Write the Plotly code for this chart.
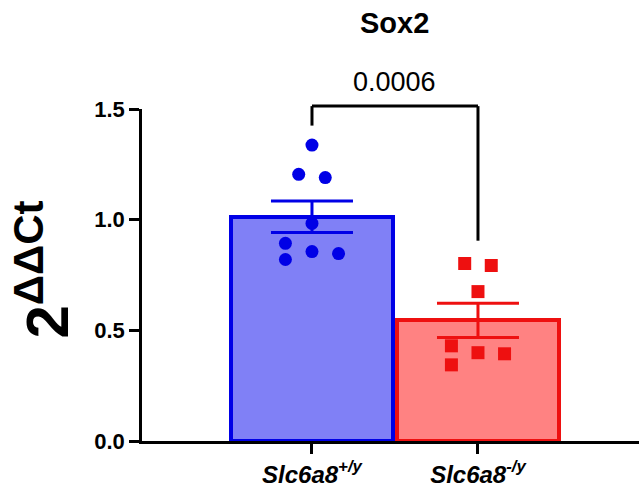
import plotly.graph_objects as go

# ---- data ----
categories = ["Slc6a8<sup>+/y</sup>", "Slc6a8<sup>-/y</sup>"]
bar_means = [1.013, 0.545]
bar_sem = [0.071, 0.077]
wt_points = [1.337, 1.205, 1.19, 0.983, 0.893, 0.82, 0.856, 0.847]
ko_points = [0.802, 0.793, 0.675, 0.43, 0.399, 0.394, 0.344]
p_value_text = "0.0006"
title_text = "Sox2"
y_ticks = [0.0, 0.5, 1.0, 1.5]

# jitter offsets (layout only)
wt_jitter = [0, -0.08, 0.08, 0, -0.16, -0.16, 0, 0.16]
ko_jitter = [-0.08, 0.08, 0, -0.16, 0, 0.16, -0.16]

W, H = 639, 490
XMIN, XMAX = -1.024, 1.97
YMIN, YMAX = 0.0, 1.5
FONT = "Liberation Sans, Arial"

blue_fill = "#8080f6"
blue_line = "#0000e6"
red_fill = "#ff8282"
red_line = "#ee1010"

fig = go.Figure()
fig.add_trace(go.Bar(
    x=[0, 1], y=bar_means, width=0.975,
    marker=dict(color=[blue_fill, red_fill], line=dict(color=[blue_line, red_line], width=4)),
    showlegend=False,
))
for i, col in enumerate([blue_line, red_line]):
    fig.add_trace(go.Scatter(
        x=[i], y=[bar_means[i]], mode="markers",
        marker=dict(size=1, color=col, opacity=0),
        error_y=dict(type="data", array=[bar_sem[i]], color=col, thickness=3, width=41, visible=True),
        showlegend=False, hoverinfo="skip",
    ))
fig.add_trace(go.Scatter(
    x=[0 + j for j in wt_jitter], y=wt_points, mode="markers",
    marker=dict(symbol="circle", size=13, color=blue_line), showlegend=False, cliponaxis=False,
))
fig.add_trace(go.Scatter(
    x=[1 + j for j in ko_jitter], y=ko_points, mode="markers",
    marker=dict(symbol="square", size=13, color=red_line), showlegend=False, cliponaxis=False,
))

def px(xd):
    return (xd - XMIN) / (XMAX - XMIN)

def py(yd):
    return (yd - YMIN) / (YMAX - YMIN)

# significance bracket
br_top, br_left, br_right = 1.513, 1.425, 0.905
for x0, y0, x1, y1 in [(0, br_left, 0, br_top), (0, br_top, 1, br_top), (1, br_top, 1, br_right)]:
    fig.add_shape(type="line", xref="paper", yref="paper",
                  x0=px(x0), y0=py(y0), x1=px(x1), y1=py(y1),
                  line=dict(color="black", width=3))

fig.add_annotation(text=p_value_text, xref="paper", yref="paper", x=px(0.5), y=1.081,
                   showarrow=False, font=dict(family=FONT, size=27, color="black"),
                   xanchor="center", yanchor="middle")
fig.add_annotation(text="<b>" + title_text + "</b>", xref="paper", yref="paper", x=px(0.5), y=1.259,
                   showarrow=False, font=dict(family=FONT, size=29, color="black"),
                   xanchor="center", yanchor="middle")
fig.add_annotation(text="<b>2<sup>ΔΔCt</sup></b>", xref="paper", yref="paper", x=-0.2, y=0.515,
                   textangle=-90, showarrow=False,
                   font=dict(family=FONT, size=60, color="black"),
                   xanchor="center", yanchor="middle")

fig.update_layout(
    width=W, height=H,
    margin=dict(l=142, r=0, t=109, b=49),
    plot_bgcolor="white", paper_bgcolor="white",
    font=dict(family=FONT, color="black"),
    bargap=0,
)
fig.update_xaxes(
    range=[XMIN, XMAX], tickvals=[0, 1], ticktext=categories,
    showline=True, linecolor="black", linewidth=2.5,
    ticks="outside", ticklen=10, tickwidth=2.5, tickcolor="black",
    tickfont=dict(size=24, weight="bold", style="italic", family=FONT),
    showgrid=False, zeroline=False,
)
fig.update_yaxes(
    range=[YMIN, YMAX], tickvals=y_ticks, tickformat=".1f",
    showline=True, linecolor="black", linewidth=2.5,
    ticks="outside", ticklen=10, tickwidth=2.5, tickcolor="black",
    tickfont=dict(size=22, weight="bold", family=FONT),
    showgrid=False, zeroline=False,
)

fig.write_html("out.html", config={"displayModeBar": False},
               post_script="document.body.style.margin='0';document.body.style.padding='0';")
